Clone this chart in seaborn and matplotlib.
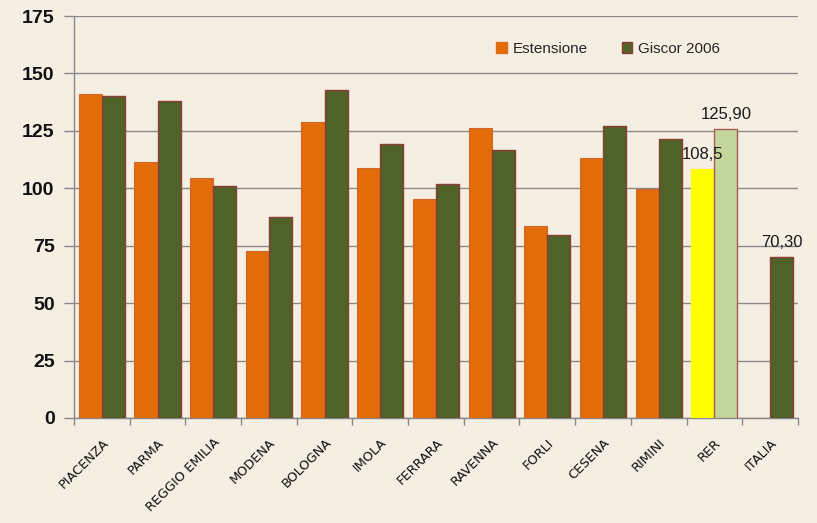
import numpy as np
import pandas as pd
import matplotlib
matplotlib.use("Agg")
import matplotlib.pyplot as plt
import seaborn as sns
from matplotlib.patches import Patch

categories = ["PIACENZA", "PARMA", "REGGIO EMILIA", "MODENA", "BOLOGNA", "IMOLA",
              "FERRARA", "RAVENNA", "FORLI", "CESENA", "RIMINI", "RER", "ITALIA"]
estensione = [141.0, 111.3, 104.6, 72.6, 129.0, 109.0, 95.5, 126.1, 83.5, 113.2, 99.8, 108.5, np.nan]
giscor = [140.3, 138.0, 101.0, 87.6, 142.9, 119.2, 101.7, 116.7, 79.7, 127.0, 121.6, 125.9, 70.3]
series_names = ["Estensione", "Giscor 2006"]
labels = {("RER", "Estensione"): "108,5", ("RER", "Giscor 2006"): "125,90",
          ("ITALIA", "Giscor 2006"): "70,30"}
yticks = [0, 25, 50, 75, 100, 125, 150, 175]

sns.set_theme(style="white")
plt.rcParams["font.family"] = ["Liberation Sans", "DejaVu Sans"]

df = pd.DataFrame({
    "cat": categories * 2,
    "val": estensione + giscor,
    "serie": [series_names[0]] * len(categories) + [series_names[1]] * len(categories),
})

bg = "#F5EFE3"
fig = plt.figure(figsize=(8.17, 5.23), dpi=100, facecolor=bg)
ax = fig.add_axes([0.0906, 0.2008, 0.886, 0.7686])
ax.set_facecolor("none")

orange = "#E36C0A"
green = "#4F6228"
pal = {series_names[0]: orange, series_names[1]: green}
sns.barplot(data=df, x="cat", y="val", hue="serie", order=categories,
            hue_order=series_names, palette=pal, width=0.83, saturation=1,
            ax=ax, legend=False, zorder=3)

# style bars
for ci, cont in enumerate(ax.containers):
    for bar in cont:
        cx = bar.get_x() + bar.get_width() / 2
        idx = int(round(cx))
        if ci == 0:
            bar.set_edgecolor("#D2652A")
            bar.set_linewidth(0.8)
        else:
            bar.set_edgecolor("#8E3B36")
            bar.set_linewidth(1.0)
        if categories[idx] == "RER":
            if ci == 0:
                bar.set_facecolor("#FFFF00")
                bar.set_edgecolor("#FFFF00")
            else:
                bar.set_facecolor("#C3D69B")
                bar.set_edgecolor("#A85A55")
        key = (categories[idx], series_names[ci])
        if key in labels and np.isfinite(bar.get_height()):
            ax.text(cx, bar.get_height() + 3, labels[key], ha="center", va="bottom",
                    fontsize=12, color="#1a1a1a")

ax.set_ylim(0, 175)
ax.set_xlim(-0.5, len(categories) - 0.5)
ax.set_yticks(yticks)
ax.set_yticklabels([str(v) for v in yticks], fontsize=14, fontweight="bold", color="#111111")
ax.yaxis.grid(True, color="#8a8a8a", linewidth=1.0, zorder=0)
ax.set_axisbelow(True)

# x ticks: boundaries as major ticks, labels at centers
ax.set_xticks(np.arange(-0.5, len(categories) + 0.5, 1))
ax.set_xticklabels([])
ax.set_xticks(np.arange(len(categories)), minor=True)
ax.set_xticklabels(categories, minor=True, rotation=45, ha="right", rotation_mode="anchor",
                   fontsize=9.3, family=["DejaVu Sans"], color="#111111")
ax.tick_params(axis="x", which="major", length=5, width=1, color="#888888", direction="out", bottom=True)
ax.tick_params(axis="x", which="minor", length=0, pad=13)
ax.tick_params(axis="y", length=7, width=1, color="#888888", direction="out", left=True, pad=7)

for s in ["top", "right"]:
    ax.spines[s].set_visible(False)
for s in ["left", "bottom"]:
    ax.spines[s].set_color("#888888")
    ax.spines[s].set_linewidth(1.0)

ax.set_xlabel("")
ax.set_ylabel("")

handles = [Patch(facecolor=orange, edgecolor=orange, label=series_names[0]),
           Patch(facecolor=green, edgecolor="#8E3B36", label=series_names[1])]
ax.legend(handles=handles, loc="center", bbox_to_anchor=(0.738, 0.918), ncol=2,
          frameon=False, handlelength=0.7, handleheight=0.7, handletextpad=0.4,
          columnspacing=2.2, fontsize=11)

fig.savefig("out.png", dpi=100, facecolor=bg)
